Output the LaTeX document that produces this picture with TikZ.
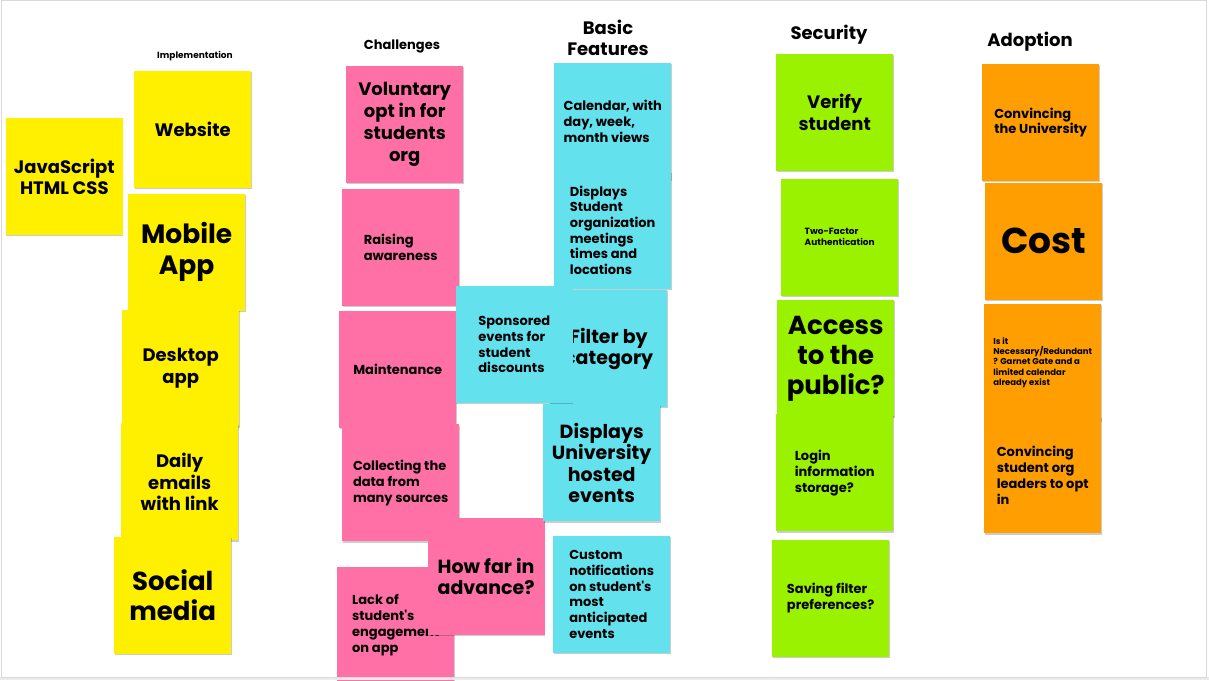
\documentclass[tikz,border=0pt]{standalone}
\usepackage{fontspec}
\setmainfont{Poppins}
\usepackage{tikz}
\usetikzlibrary{positioning}
\usetikzlibrary{shadows}
\definecolor{stickyyellow}{RGB}{255,240,0}
\definecolor{stickypink}{RGB}{255,112,166}
\definecolor{stickycyan}{RGB}{99,226,238}
\definecolor{stickygreen}{RGB}{155,242,0}
\definecolor{stickyorange}{RGB}{255,158,0}
\newcommand{\notesize}[2]{\fontsize{#1}{#2}\selectfont}
\tikzstyle{note} = [minimum width = 117pt, minimum height = 117pt, inner sep = 0pt, align = center, drop shadow = {shadow xshift = 0.6pt, shadow yshift = -1.2pt, fill = black, opacity = 0.2}]
\tikzstyle{impl} = [note, fill = stickyyellow]
\tikzstyle{chal} = [note, fill = stickypink]
\tikzstyle{feat} = [note, fill = stickycyan]
\tikzstyle{secu} = [note, fill = stickygreen]
\tikzstyle{adop} = [note, fill = stickyorange]
\tikzstyle{header} = [align = center, inner sep = 0pt]

\begin{document}
\begin{tikzpicture}[x = 1pt, y = -1pt]
			
			\fill[white] (0,0) rectangle (1209,680);
			\useasboundingbox (0,0) rectangle (1209,680);
			
			% Column titles
			\node[header, font = \bfseries\notesize{9}{11}] (himpl) at (195,56) {Implementation};
			\node[header, font = \bfseries\notesize{13}{15}] (hchal) at (402,46) {Challenges};
			\node[header, font = \bfseries\notesize{18}{21}] (hfeat) at (608,38) {Basic\\Features};
			\node[header, font = \bfseries\notesize{18}{21}] (hsecu) at (829,35) {Security};
			\node[header, font = \bfseries\notesize{18}{21}] (hadop) at (1030,42) {Adoption};
			
			% Implementation notes
			\node[impl, anchor = north west, font = \bfseries\notesize{18}{21}] (web) at (134,71) {Website};
			\node[impl, left = 11pt of web, yshift = -47pt, font = \bfseries\notesize{18}{21}] (js) {JavaScript\\HTML CSS};
			\node[impl, below = 5pt of web, xshift = -6pt, font = \bfseries\notesize{26.5}{31}] (mobile) {Mobile\\App};
			\node[impl, below = -1pt of mobile, xshift = -6pt, font = \bfseries\notesize{18}{22}] (desktop) {Desktop\\app};
			\node[impl, below = -4pt of desktop, xshift = -1pt, font = \bfseries\notesize{18}{21.5}] (daily) {Daily\\emails\\with link};
			\node[impl, below = -4pt of daily, xshift = -7pt, font = \bfseries\notesize{26}{30}] (social) {Social\\media};
			
			% Challenges notes
			\node[chal, anchor = north west, font = \bfseries\notesize{18}{22}] (voluntary) at (346,66) {Voluntary\\opt in for\\students\\org};
			\node[chal, below = 5pt of voluntary, xshift = -4pt, align = left, font = \bfseries\notesize{13}{15.5}] (raising) {Raising\\awareness};
			\node[chal, below = 5pt of raising, xshift = -3pt, font = \bfseries\notesize{13}{16}] (maint) {Maintenance};
			\node[chal, below = -4pt of maint, xshift = 3pt, align = left, font = \bfseries\notesize{13}{16}] (collect) {Collecting the\\data from\\many sources};
			\node[chal, below = 25pt of collect, xshift = -5pt, align = left, font = \bfseries\notesize{13}{16}] (lack) {Lack of\\student\textquotesingle s\\engagement\\on app};
			\node[chal, right = -27pt of lack, yshift = 49pt, font = \bfseries\notesize{19}{21}] (howfar) {How far in\\advance?};
			
			% Basic features notes
			\node[feat, anchor = north west, align = left, font = \bfseries\notesize{13}{16}] (calendar) at (554,63) {Calendar, with\\day, week,\\month views};
			\node[feat, below = -9pt of calendar, align = left, font = \bfseries\notesize{13}{15.6}] (meetings) {Displays\\Student\\organization\\meetings\\times and\\locations};
			\node[feat, below = 1pt of meetings, xshift = -4pt, font = \bfseries\notesize{19}{21}] (filter) {Filter by\\category};
			\node[feat, left = -23pt of filter, yshift = 4pt, align = left, font = \bfseries\notesize{13}{15.7}] (sponsored) {Sponsored\\events for\\student\\discounts};
			\node[feat, below = -3pt of filter, xshift = -7pt, font = \bfseries\notesize{19}{21.5}] (hosted) {Displays\\University\\hosted\\events};
			\node[feat, below = 14pt of hosted, xshift = 10pt, align = left, font = \bfseries\notesize{13}{15.7}] (custom) {Custom\\notifications\\on student\textquotesingle s\\most\\anticipated\\events};
			
			% Security notes
			\node[secu, anchor = north west, font = \bfseries\notesize{18}{22}] (verify) at (776,54) {Verify\\student};
			\node[secu, below = 7pt of verify, xshift = 5pt, align = left, font = \bfseries\notesize{9}{11}] (twofactor) {Two-Factor\\Authentication};
			\node[secu, below = 4pt of twofactor, xshift = -4pt, font = \bfseries\notesize{26}{30}] (access) {Access\\to the\\public?};
			\node[secu, below = -3pt of access, xshift = -1pt, align = left, font = \bfseries\notesize{13}{16}] (login) {Login\\information\\storage?};
			\node[secu, below = 8pt of login, xshift = -4pt, align = left, font = \bfseries\notesize{13}{16}] (saving) {Saving filter\\preferences?};
			
			% Adoption notes
			\node[adop, anchor = north west, align = left, font = \bfseries\notesize{13}{15}] (university) at (982,64) {Convincing\\the University};
			\node[adop, below = 1pt of university, xshift = 3pt, font = \bfseries\notesize{36}{40}] (cost) {Cost};
			\node[adop, below = 4pt of cost, xshift = -1pt, align = left, font = \bfseries\notesize{8.5}{10.3}] (necessary) {Is it\\Necessary/Redundant\\? Garnet Gate and a\\limited calendar\\already exist};
			\node[adop, below = -5pt of necessary, align = left, font = \bfseries\notesize{13}{16}] (leaders) {Convincing\\student org\\leaders to opt\\in};
			
			% Frame of the board
			\fill[black!8] (0,677) rectangle (1209,680);
			\draw[black!15, line width = 1pt] (1,0.5) rectangle (1206,677);
		
		\end{tikzpicture}
\end{document}
